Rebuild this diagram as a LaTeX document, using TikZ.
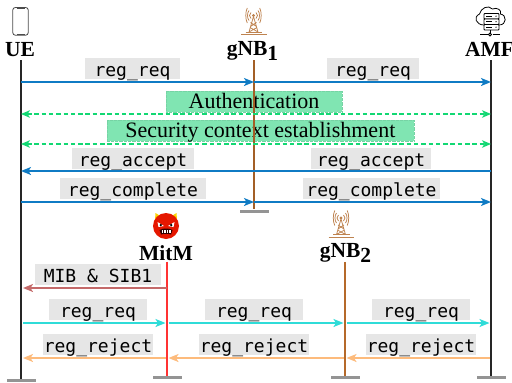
\documentclass[tikz,border=0pt]{standalone}
\usepackage{fontspec}
\setmainfont{Liberation Serif}
\newfontfamily\labelfont{DejaVu Sans Mono}
\usetikzlibrary{arrows.meta}
\definecolor{blueline}{HTML}{0F7BC4}
\definecolor{greenline}{HTML}{12D873}
\definecolor{greenbox}{HTML}{80E5B2}
\definecolor{redline}{HTML}{C46A6A}
\definecolor{cyanline}{HTML}{2FDCD8}
\definecolor{orangeline}{HTML}{FDBB7C}
\definecolor{towerline}{HTML}{B5692A}
\definecolor{towericoncol}{HTML}{BE8350}
\definecolor{lab}{HTML}{E6E6E6}
\tikzset{
 x=1pt,y=-1pt,
 msg/.style={fill=lab,font=\labelfont\fontsize{18}{20}\selectfont,inner sep=0pt,text height=18.5pt,text depth=2.5pt,anchor=center},
 band/.style={fill=greenbox,draw=greenbox!92!black,densely dotted,line width=.3pt,font=\fontsize{22}{24}\selectfont,inner sep=0pt,text height=18pt,text depth=3pt,anchor=center},
 actor/.style={font=\bfseries\fontsize{21.5}{24}\selectfont,inner sep=0pt,anchor=base},
 arr/.style={line width=1.5pt,-{Stealth[length=10pt,width=8pt,inset=2.5pt]}},
 dbl/.style={line width=1.3pt,greenline,dash pattern=on 4.5pt off 2.8pt,{Stealth[length=9pt,width=7.5pt,inset=2.5pt]}-{Stealth[length=9pt,width=7.5pt,inset=2.5pt]}},
 life/.style={line width=1.6pt},
 foot/.style={draw=none,fill=black!42,minimum width=29pt,minimum height=3.2pt,inner sep=0pt},
}
\newcommand{\towericon}[2]{%
 \begin{scope}[shift={(#1,#2)},draw=towericoncol,line width=.75pt]
  \draw (-12.5,0) -- (13,0); \draw (-8,-2.5) -- (8.5,-2.5);
  \draw (-4.5,-2.5) -- (0,-18) -- (4.5,-2.5) (-3,-8) -- (3,-12) (-3,-12) -- (3,-8) (-4.5,-2.5) -- (3.5,-7) (-3.5,-7)--(4.5,-2.5);
  \fill[towericoncol] (0,-19) circle (1.6pt);
  \foreach \o/\h in {2.5/3,4.5/5,6.2/7.5}{
   \draw (-\o,-19-\h) .. controls (-\o-2,-19-\h/2) and (-\o-2,-19+\h/2) .. (-\o,-19+\h);
   \draw (\o,-19-\h) .. controls (\o+2,-19-\h/2) and (\o+2,-19+\h/2) .. (\o,-19+\h);
  }
 \end{scope}}
\begin{document}
\begin{tikzpicture}
\useasboundingbox (0,0) rectangle (512,383);
% actors
\node[actor,text depth=3.5pt] (ue) at (20,56.5) {UE};
\node[actor,text depth=4.5pt] (gnb1) at (252.5,55.5) {gNB\raisebox{-4.5pt}{1}};
\node[actor,text depth=3.5pt] (amf) at (489.5,56.5) {AMF};
\node[actor,text depth=1.5pt] (mitm) at (166,260) {MitM};
\node[actor,text depth=4.2pt] (gnb2) at (345.5,257.5) {gNB\raisebox{-4.5pt}{2}};
% lifeline ends
\node[foot] (ueF) at (21,380.6) {};
\node[foot] (gnb1F) at (254,211.2) {};
\node[foot] (mitmF) at (167,377.7) {};
\node[foot] (gnb2F) at (345,377.7) {};
\node[foot] (amfF) at (491,377.7) {};
% icons
\draw[black!70,line width=.8pt,rounded corners=2.5pt] (12.8,7.5) rectangle (28.2,35.2);
\draw[black!70,line width=.8pt] (16.5,8.7) -- (24.5,8.7) (16.5,34) -- (24.5,34);
\towericon{253.5}{34.5}
\towericon{341}{237}
% amf icon
\begin{scope}[black,line width=.8pt]
 \draw (484,25) .. controls (476,25) and (473,17) .. (479.5,14) .. controls (481,8) and (488,4.5) .. (492.5,9) .. controls (497,7) and (502,10) .. (500.5,14) .. controls (507,15) and (507,25) .. (499,25);
 \foreach \y in {13.5,19,24.5}{\draw[fill=white,rounded corners=.8pt] (484,\y) rectangle (499,\y+5.5);
  \fill (496,\y+2.7) circle (.7pt); \draw[line width=.5pt] (486,\y+2.7)--(492,\y+2.7);}
 \draw (490,30) -- (490,33) (480,34.5) -- (488,34.5) (492.5,34.5) -- (500,34.5);
 \draw (490,34.5) circle (1.5pt);
\end{scope}
% devil
\fill[yellow!70!orange] (155,220) -- (155.5,213) -- (162,217) -- cycle;
\fill[yellow!70!orange] (177,220) -- (176.5,213) -- (170,217) -- cycle;
\fill[red!80!orange!90!black] (166,226) circle (13pt);
\fill[white] (157.5,222) -- (164,226) -- (158.5,227) -- cycle;
\fill[white] (174.5,222) -- (168,226) -- (173.5,227) -- cycle;
\fill[black] (160.8,225) circle (1.3pt) (171.2,225) circle (1.3pt);
\fill[black!80!red] (159.5,230) .. controls (163,228) and (169,228) .. (172.5,230) -- (171,234.5) .. controls (168,233.5) and (164,233.5) .. (161,234.5) -- cycle;
\foreach \x in {162.5,165,167.5,170}{\fill[white] (\x-.6,230) rectangle (\x+.6,232.8);}
% labels
\node[msg,minimum width=95pt] (l1) at (132.5,68) {reg\_req};
\node[msg,minimum width=92pt] (l2) at (373,68) {reg\_req};
\node[band,minimum width=176pt,minimum height=21pt] (auth) at (254,101.2) {Authentication};
\node[band,minimum width=307pt,minimum height=21pt] (sec) at (260.3,130.4) {Security context establishment};
\node[msg,minimum width=122pt] (l3) at (133,158.7) {reg\_accept};
\node[msg,minimum width=120pt] (l4) at (371,158.7) {reg\_accept};
\node[msg,minimum width=146pt] (l5) at (133,188.5) {reg\_complete};
\node[msg,minimum width=137pt] (l6) at (371.5,188.5) {reg\_complete};
\node[msg,minimum width=126pt] (l7) at (98,274.5) {MIB \& SIB1};
\node[msg,minimum width=98pt] (l8) at (98,309.5) {reg\_req};
\node[msg,minimum width=98pt] (l9) at (254,309.5) {reg\_req};
\node[msg,minimum width=98pt] (l10) at (421,309.5) {reg\_req};
\node[msg,minimum width=110pt] (l11) at (98,344.5) {reg\_reject};
\node[msg,minimum width=110pt] (l12) at (254,344.5) {reg\_reject};
\node[msg,minimum width=110pt] (l13) at (421,344.5) {reg\_reject};
% lifelines (over the bands)
\draw[life,black!85] (ue.south -| ueF) -- (ueF.north);
\draw[life,black!85] (amf.south -| amfF) -- (amfF.north);
\draw[life,towerline!90!black] (gnb1.south -| gnb1F) -- (gnb1F.north);
\draw[life,towerline] (gnb2.south -| gnb2F) -- (gnb2F.north);
\draw[life,red!80] (mitm.south -| mitmF) -- (mitmF.north);
% arrow anchors on lifelines
\foreach \r/\y in {A/82,B/114,C/144,D/171,E/202,F/288,G/323,H/358}{
 \coordinate (u\r) at (ueF |- 0,\y);
 \coordinate (g\r) at (gnb1F |- 0,\y);
 \coordinate (a\r) at (amfF |- 0,\y);
 \coordinate (m\r) at (mitmF |- 0,\y);
 \coordinate (h\r) at (gnb2F |- 0,\y);
}
\draw[arr,blueline] (uA) -- (gA);
\draw[arr,blueline] (gA) -- (aA);
\draw[dbl] (uB) -- (aB);
\draw[dbl] (uC) -- (aC);
\draw[arr,blueline] (aD) -- (uD);
\draw[arr,blueline] (uE) -- (gE);
\draw[arr,blueline] (gE) -- (aE);
\draw[arr,redline] (mF) -- ([xshift=2pt]uF);
\draw[arr,cyanline] ([xshift=2pt]uG) -- ([xshift=-1.5pt]mG);
\draw[arr,cyanline] ([xshift=1.5pt]mG) -- ([xshift=-1.5pt]hG);
\draw[arr,cyanline] ([xshift=1.5pt]hG) -- ([xshift=-1.5pt]aG);
\draw[arr,orangeline] ([xshift=-1.5pt]aH) -- ([xshift=1.5pt]hH);
\draw[arr,orangeline] ([xshift=-1.5pt]hH) -- ([xshift=1.5pt]mH);
\draw[arr,orangeline] ([xshift=-1.5pt]mH) -- ([xshift=2pt]uH);
\end{tikzpicture}
\end{document}
